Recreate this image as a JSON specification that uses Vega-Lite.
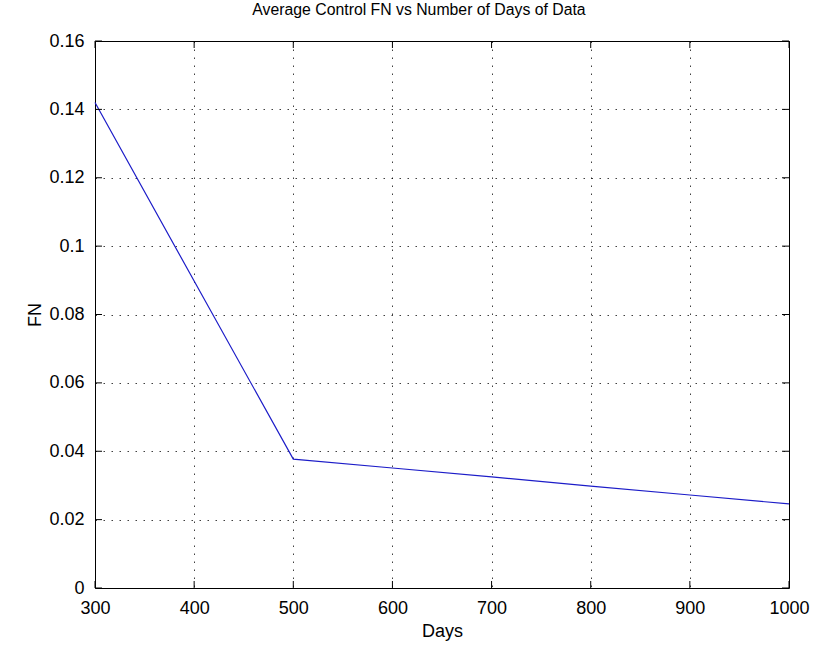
{
  "$schema": "https://vega.github.io/schema/vega-lite/v6.json",
  "autosize": "none",
  "width": 694,
  "height": 547,
  "padding": {"left": 95, "top": 41, "right": 25, "bottom": 58},
  "background": "white",
  "config": {
    "font": "Liberation Sans",
    "view": {"stroke": "#000000", "strokeWidth": 1},
    "axis": {
      "labelFont": "Liberation Sans",
      "titleFont": "Liberation Sans",
      "labelFontSize": 18,
      "titleFontSize": 18,
      "titleFontWeight": "normal",
      "labelColor": "#000000",
      "titleColor": "#000000",
      "domain": false,
      "ticks": false,
      "gridColor": "#000000",
      "gridDash": [1.5, 6.5],
      "gridOpacity": 0.75,
      "labelFlush": false,
      "labelOverlap": false
    }
  },
  "title": {
    "text": "Average Control FN vs Number of Days of Data",
    "font": "Liberation Sans",
    "fontSize": 15.8,
    "fontWeight": "normal",
    "color": "#000000",
    "offset": 13,
    "dx": -23
  },
  "datasets": {
    "series": [
      {"days": 300, "fn": 0.142},
      {"days": 400, "fn": 0.0898},
      {"days": 500, "fn": 0.0377},
      {"days": 600, "fn": 0.0351},
      {"days": 700, "fn": 0.0325},
      {"days": 800, "fn": 0.0298},
      {"days": 900, "fn": 0.0272},
      {"days": 1000, "fn": 0.0246}
    ],
    "xticks": [{"t": 300}, {"t": 400}, {"t": 500}, {"t": 600}, {"t": 700}, {"t": 800}, {"t": 900}, {"t": 1000}],
    "yticks": [{"v": 0}, {"v": 0.02}, {"v": 0.04}, {"v": 0.06}, {"v": 0.08}, {"v": 0.1}, {"v": 0.12}, {"v": 0.14}, {"v": 0.16}]
  },
  "layer": [
    {
      "data": {"name": "series"},
      "mark": {"type": "line", "color": "#1c1cc8", "strokeWidth": 1.2},
      "encoding": {
        "x": {
          "field": "days", "type": "quantitative",
          "scale": {"domain": [300, 1000], "nice": false, "zero": false},
          "axis": {"values": [300, 400, 500, 600, 700, 800, 900, 1000], "format": "d", "title": "Days", "labelPadding": 11, "titlePadding": 5, "grid": true, "orient": "bottom"}
        },
        "y": {
          "field": "fn", "type": "quantitative",
          "scale": {"domain": [0, 0.16], "nice": false},
          "axis": {"values": [0, 0.02, 0.04, 0.06, 0.08, 0.1, 0.12, 0.14, 0.16], "format": ".2~f", "title": "FN", "labelPadding": 11, "titlePadding": 4, "grid": true, "orient": "left"}
        }
      }
    },
    {
      "data": {"name": "xticks"},
      "mark": {"type": "rule", "color": "#000000", "strokeWidth": 1},
      "encoding": {
        "x": {"field": "t", "type": "quantitative"},
        "y": {"datum": 0, "type": "quantitative"},
        "y2": {"datum": 0.00205}
      }
    },
    {
      "data": {"name": "xticks"},
      "mark": {"type": "rule", "color": "#000000", "strokeWidth": 1},
      "encoding": {
        "x": {"field": "t", "type": "quantitative"},
        "y": {"datum": 0.16, "type": "quantitative"},
        "y2": {"datum": 0.15795}
      }
    },
    {
      "data": {"name": "yticks"},
      "mark": {"type": "rule", "color": "#000000", "strokeWidth": 1},
      "encoding": {
        "y": {"field": "v", "type": "quantitative"},
        "x": {"datum": 300, "type": "quantitative"},
        "x2": {"datum": 307.06}
      }
    },
    {
      "data": {"name": "yticks"},
      "mark": {"type": "rule", "color": "#000000", "strokeWidth": 1},
      "encoding": {
        "y": {"field": "v", "type": "quantitative"},
        "x": {"datum": 1000, "type": "quantitative"},
        "x2": {"datum": 992.94}
      }
    }
  ]
}
